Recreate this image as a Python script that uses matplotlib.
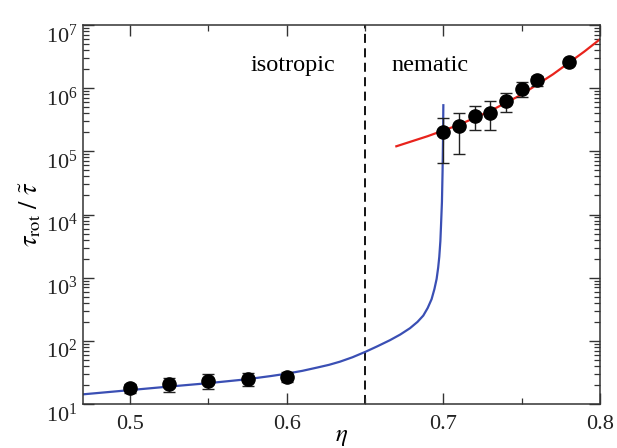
import numpy as np
import matplotlib
matplotlib.use('Agg')
import matplotlib.pyplot as plt
import matplotlib.transforms as mtransforms
from matplotlib.ticker import LogLocator, MultipleLocator, FixedLocator, NullFormatter

plt.rcParams['font.family'] = 'serif'
plt.rcParams['font.serif'] = ['Liberation Serif', 'DejaVu Serif']
plt.rcParams['mathtext.fontset'] = 'stix'

# ── Data ──────────────────────────────────────────────────────────────
# simulation points (isotropic + nematic)
eta_pts = [0.50, 0.525, 0.55, 0.575, 0.60,
           0.70, 0.71, 0.72, 0.73, 0.74, 0.75, 0.76, 0.78]
tau_pts = [18.1, 20.4, 23.1, 25.1, 27.0,
           2.0e5, 2.5e5, 3.6e5, 4.1e5, 6.3e5, 9.6e5, 1.35e6, 2.57e6]
tau_lo  = [15.0, 15.7, 17.3, 19.3, 22.0,
           6.6e4, 9.0e4, 2.2e5, 2.2e5, 4.2e5, 7.2e5, 1.07e6, 2.57e6]
tau_hi  = [21.0, 25.5, 29.5, 31.3, 32.4,
           3.4e5, 4.0e5, 5.2e5, 6.2e5, 8.5e5, 1.24e6, 1.53e6, 2.57e6]

# theory curve (blue), isotropic branch diverging near eta = 0.70
eta_blue = [0.47, 0.50, 0.52, 0.55, 0.57, 0.58, 0.59, 0.60, 0.61, 0.62,
            0.627, 0.634, 0.642, 0.6506, 0.658, 0.6659, 0.6725, 0.6787,
            0.6835, 0.6872, 0.690, 0.6925, 0.6943, 0.6957, 0.6967, 0.6974,
            0.6981, 0.6985, 0.6991, 0.6995, 0.6998, 0.7000]
log_blue = [1.153, 1.22, 1.265, 1.33, 1.38, 1.41, 1.443, 1.48, 1.525, 1.58,
            1.62, 1.67, 1.74, 1.83, 1.915, 2.01, 2.10, 2.20,
            2.30, 2.40, 2.52, 2.66, 2.82, 2.98, 3.16, 3.33,
            3.58, 3.82, 4.20, 4.68, 5.20, 5.73]

# nematic fit (red)
eta_red = [0.67, 0.69, 0.71, 0.73, 0.75, 0.77, 0.79, 0.80]
log_red = [5.08, 5.24, 5.42, 5.64, 5.90, 6.22, 6.58, 6.775]

eta_transition = 0.65

# ── Figure ────────────────────────────────────────────────────────────
fig = plt.figure(figsize=(6.17, 4.48), dpi=100)
ax = fig.add_axes([0.1345, 0.0982, 0.838, 0.846])

ax.plot(eta_blue, 10 ** np.array(log_blue), color='#3a4fb4', lw=1.6,
        zorder=2, solid_joinstyle='round')
ax.plot(eta_red, 10 ** np.array(log_red), color='#e8231c', lw=1.6,
        zorder=2, solid_joinstyle='round')
ax.axvline(eta_transition, color='black', lw=1.3, ls=(0, (5, 3)), zorder=1)

tau = np.array(tau_pts)
yerr = [tau - np.array(tau_lo), np.array(tau_hi) - tau]
ax.errorbar(eta_pts, tau, yerr=yerr, fmt='o', color='black', ms=9.5,
            ecolor='#222222', elinewidth=1.0, capsize=4, capthick=1.0, zorder=3)

ax.text(0.604, 2.3e6, 'isotropic', ha='center', va='center', fontsize=17.5)
ax.text(0.6915, 2.3e6, 'nematic', ha='center', va='center', fontsize=17.5)

ax.set_yscale('log')
ax.set_xlim(0.47, 0.8)
ax.set_ylim(10, 1e7)

ax.xaxis.set_major_locator(FixedLocator([0.5, 0.6, 0.7, 0.8]))
ax.xaxis.set_minor_locator(MultipleLocator(0.05))
ax.set_xticklabels(['0.5', '0.6', '0.7', '0.8'])
ax.set_yticks([1e1, 1e2, 1e3, 1e4, 1e5, 1e6, 1e7])
ax.yaxis.set_minor_locator(LogLocator(base=10, subs=np.arange(2, 10), numticks=20))
ax.yaxis.set_minor_formatter(NullFormatter())

ax.tick_params(which='both', direction='in', top=True, right=True,
               labelsize=16, colors='#333333', labelcolor='#222222')
ax.tick_params(which='major', length=8, width=1.0)
ax.tick_params(which='minor', length=4.5, width=0.9)
ax.tick_params(axis='x', which='major', pad=8)
ax.tick_params(axis='y', which='major', pad=4)
for s in ax.spines.values():
    s.set_color('#333333')
    s.set_linewidth(1.1)

# y tick labels sit a little below their ticks in the reference
shift = mtransforms.ScaledTranslation(0, -6 / 72, fig.dpi_scale_trans)
for t in ax.yaxis.get_major_ticks():
    t.label1.set_transform(t.label1.get_transform() + shift)

ax.set_xlabel(r'$\eta$', fontsize=18, labelpad=-6)
ax.set_ylabel(r'$\tau_{\rm rot}\ /\ \tilde{\tau}$', fontsize=19, labelpad=2)

fig.savefig('out.png', dpi=100)
